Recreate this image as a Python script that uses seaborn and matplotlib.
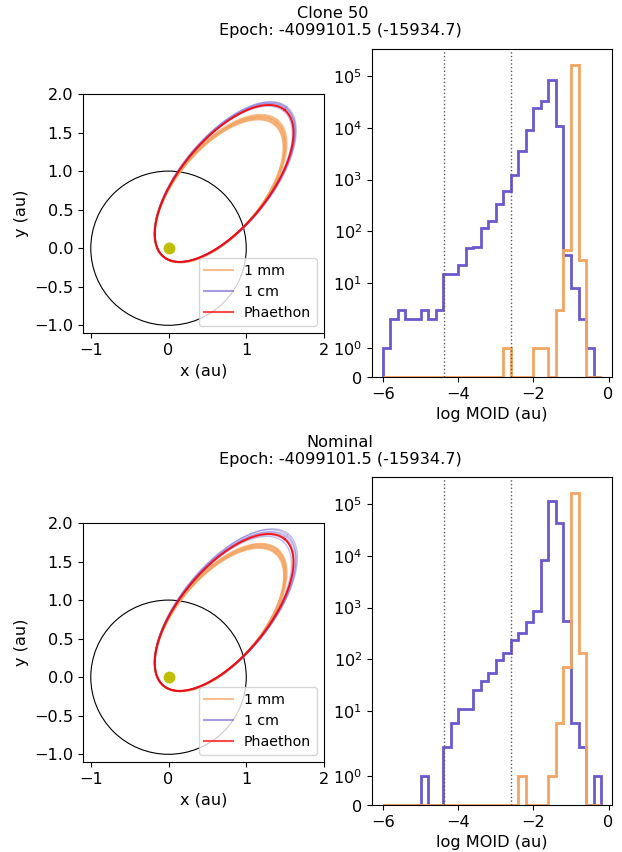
import numpy as np
import pandas as pd
import matplotlib
matplotlib.use("Agg")
import matplotlib.pyplot as plt
from matplotlib.lines import Line2D
import seaborn as sns

# ---------------- data ----------------
bin_edges = np.round(np.arange(-6.0, -0.2 + 1e-9, 0.2), 2)   # 29 bins of log MOID (au)
bin_centers = (bin_edges[:-1] + bin_edges[1:]) / 2

clone50_cm_counts = [1, 2, 3, 2, 2, 3, 2, 3, 15, 15, 22, 47, 50, 115, 162, 340, 590,
                     1240, 3500, 9200, 24000, 32600, 82000, 10700, 35, 8, 2, 1, 0]
clone50_mm_counts = [0, 0, 0, 0, 0, 0, 0, 0, 0, 0, 0, 0, 0, 0, 0, 0, 1,
                     0, 0, 0, 1, 1, 0, 3, 44, 166000, 28, 0, 0]
nominal_cm_counts = [0, 0, 0, 0, 0, 1, 0, 0, 2, 6, 11, 11, 26, 39, 55, 99, 134,
                     232, 326, 524, 854, 8340, 115000, 43800, 548, 6, 2, 0, 1]
nominal_mm_counts = [0, 0, 0, 0, 0, 0, 0, 0, 0, 0, 0, 0, 0, 0, 0, 0, 0,
                     0, 1, 0, 0, 0, 1, 6, 70, 166000, 134, 0, 0]

earth_radius_log_au = -4.37   # log10(Earth radius in au)
lunar_dist_log_au = -2.59     # log10(lunar distance in au)

titles = ["Clone 50   \nEpoch: -4099101.5 (-15934.7)",
          "Nominal\nEpoch: -4099101.5 (-15934.7)"]

# orbit ellipses (projected): semi-major, semi-minor, orientation (deg), shared perihelion vertex
perihelion_vertex = (-0.062, -0.113)
phaethon_orbit = (1.23, 0.565, 50.8)

clone50_mm_A = [1.115, 1.12, 1.13, 1.135, 1.14, 1.15]
clone50_mm_B = [0.545, 0.55, 0.55, 0.555, 0.555, 0.56]
clone50_mm_theta = [50.2, 50.3, 50.3, 50.4, 50.5, 50.5]
clone50_cm_A = [1.22, 1.23, 1.24, 1.245, 1.25, 1.255]
clone50_cm_B = [0.56, 0.565, 0.57, 0.57, 0.575, 0.58]
clone50_cm_theta = [50.8, 50.7, 50.9, 50.7, 51.0, 50.8]

nominal_mm_A = [1.12, 1.125, 1.13, 1.14, 1.145, 1.15]
nominal_mm_B = [0.545, 0.55, 0.55, 0.555, 0.555, 0.56]
nominal_mm_theta = [50.2, 50.3, 50.3, 50.4, 50.5, 50.5]
nominal_cm_A = [1.21, 1.225, 1.24, 1.25, 1.26, 1.27]
nominal_cm_B = [0.56, 0.565, 0.57, 0.575, 0.58, 0.58]
nominal_cm_theta = [50.8, 50.6, 51.0, 50.7, 51.1, 50.9]

earth_orbit_radius = 1.0

# ---------------- style ----------------
FS = 11.6
plt.rcParams["font.family"] = ["DejaVu Sans"]
plt.rcParams["font.size"] = FS
C_MM = "#f4a460"   # sandybrown
C_CM = "#6a5acd"   # slateblue


def orbit_frame(A_list, B_list, th_list, label):
    rows = []
    E = np.linspace(0, 2 * np.pi, 500)
    P = np.array(perihelion_vertex)
    for k, (A, B, th) in enumerate(zip(A_list, B_list, th_list)):
        t = np.radians(th)
        u = np.array([np.cos(t), np.sin(t)])
        v = np.array([-np.sin(t), np.cos(t)])
        c = P + A * u
        xy = c[:, None] + A * np.cos(E) * u[:, None] + B * np.sin(E) * v[:, None]
        rows.append(pd.DataFrame({"x": xy[0], "y": xy[1], "orbit": f"{label}{k}",
                                  "order": np.arange(len(E))}))
    return pd.concat(rows, ignore_index=True)


fig = plt.figure(figsize=(6.22, 8.52), dpi=100)
W, H = 622, 852


def px_axes(left, top, right, bottom):
    return fig.add_axes([left / W, 1 - bottom / H, (right - left) / W, (bottom - top) / H])


rows = [
    dict(title=titles[0], title_y=22, orb=(83, 94, 324, 333), hist=(372, 49, 612, 377),
         mm=(clone50_mm_A, clone50_mm_B, clone50_mm_theta),
         cm=(clone50_cm_A, clone50_cm_B, clone50_cm_theta),
         mm_counts=clone50_mm_counts, cm_counts=clone50_cm_counts),
    dict(title=titles[1], title_y=451, orb=(83, 523, 324, 762), hist=(372, 477, 612, 805),
         mm=(nominal_mm_A, nominal_mm_B, nominal_mm_theta),
         cm=(nominal_cm_A, nominal_cm_B, nominal_cm_theta),
         mm_counts=nominal_mm_counts, cm_counts=nominal_cm_counts),
]

for r in rows:
    fig.text(340 / W, 1 - r["title_y"] / H, r["title"], ha="center", va="center", fontsize=FS)

    # ---- orbit panel ----
    ax = px_axes(*r["orb"])
    circ = plt.Circle((0, 0), earth_orbit_radius, fill=False, color="k", lw=0.8)
    ax.add_patch(circ)
    df_mm = orbit_frame(*r["mm"], "mm")
    df_cm = orbit_frame(*r["cm"], "cm")
    df_ph = orbit_frame([phaethon_orbit[0]], [phaethon_orbit[1]], [phaethon_orbit[2]], "ph")
    sns.lineplot(data=df_mm, x="x", y="y", units="orbit", estimator=None, sort=False,
                 color=C_MM, alpha=0.7, lw=1.4, ax=ax, legend=False)
    sns.lineplot(data=df_cm, x="x", y="y", units="orbit", estimator=None, sort=False,
                 color=C_CM, alpha=0.4, lw=1.0, ax=ax, legend=False)
    sns.lineplot(data=df_ph, x="x", y="y", units="orbit", estimator=None, sort=False,
                 color="red", alpha=0.9, lw=1.4, ax=ax, legend=False)
    ax.plot([0], [0], "o", color="y", ms=7.5)
    ax.set_xlim(-1.1, 2.0)
    ax.set_ylim(-1.1, 2.0)
    ax.set_xticks([-1, 0, 1, 2])
    ax.set_yticks([-1.0, -0.5, 0.0, 0.5, 1.0, 1.5, 2.0])
    ax.set_xlabel("x (au)")
    ax.set_ylabel("y (au)")
    handles = [Line2D([], [], color=C_MM, alpha=0.7, lw=1.5),
               Line2D([], [], color=C_CM, alpha=0.6, lw=1.5),
               Line2D([], [], color="red", alpha=0.7, lw=1.5)]
    ax.legend(handles, ["1 mm", "1 cm", "Phaethon"], loc="lower right", fontsize=10.2)

    # ---- histogram panel ----
    hx = px_axes(*r["hist"])
    hx.hist(bin_centers, bins=bin_edges, weights=r["cm_counts"], histtype="step",
            color=C_CM, lw=2.0)
    hx.hist(bin_centers, bins=bin_edges, weights=r["mm_counts"], histtype="step",
            color=C_MM, lw=2.0)
    hx.set_yscale("symlog", linthresh=2)
    hx.axvline(earth_radius_log_au, color="0.35", ls=":", lw=1)
    hx.axvline(lunar_dist_log_au, color="0.35", ls=":", lw=1)
    hx.set_yticks([0, 1, 10, 100, 1e3, 1e4, 1e5])
    hx.set_xticks([-6, -4, -2, 0])
    hx.set_xlabel("log MOID (au)")

fig.savefig("out.png", dpi=100)
